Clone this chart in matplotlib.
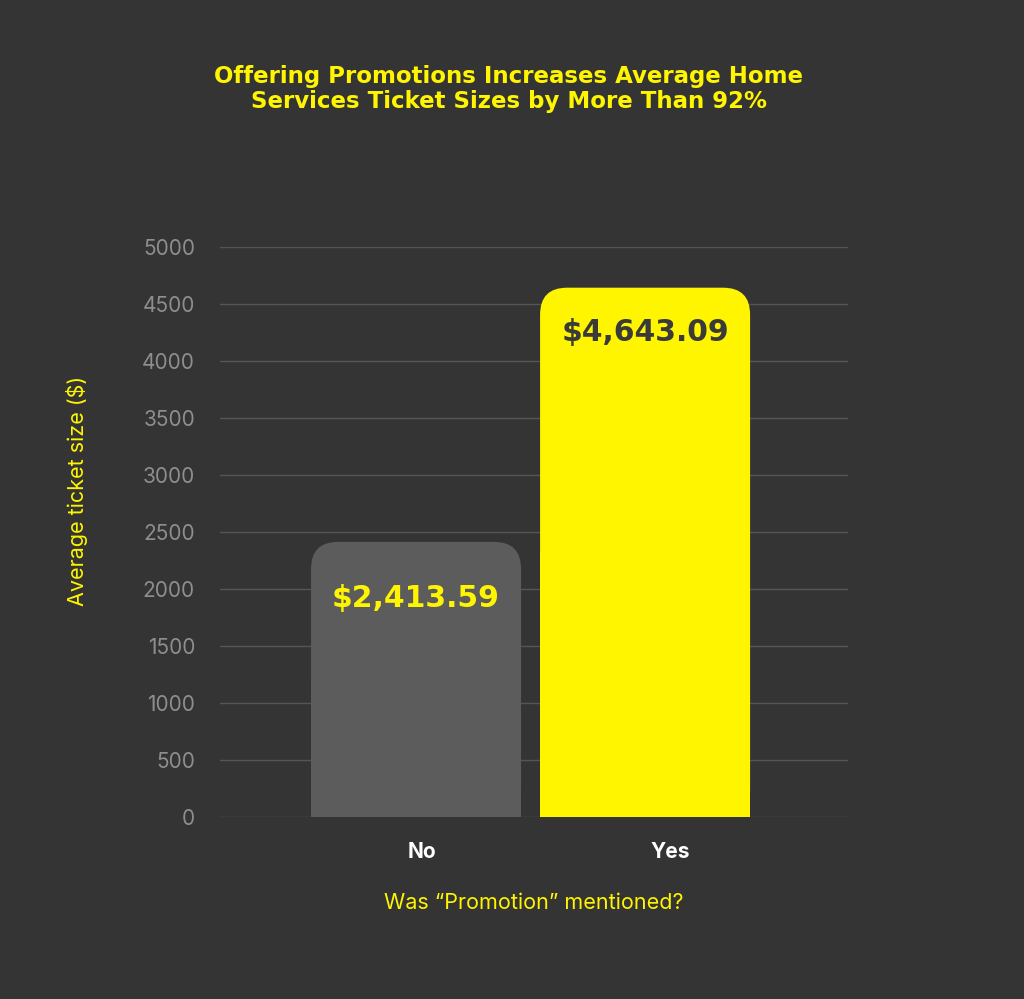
import matplotlib.pyplot as plt
import matplotlib.transforms as mtransforms
from matplotlib.patches import FancyBboxPatch, Rectangle

categories = ['No', 'Yes']
values = [2413.59, 4643.09]
value_labels = ['$2,413.59', '$4,643.09']
y_ticks = [0, 500, 1000, 1500, 2000, 2500, 3000, 3500, 4000, 4500, 5000]

BG = '#343434'
YELLOW = '#FFF500'
GREY_BAR = '#5C5C5C'

plt.rcParams['font.family'] = ['Inter', 'DejaVu Sans']

fig = plt.figure(figsize=(10.24, 9.99), dpi=100, facecolor=BG)
ax = fig.add_axes([220 / 1024, 1 - 817 / 999, 628 / 1024, 570 / 999])
ax.set_facecolor(BG)

x = list(range(len(categories)))
width = 0.917
ax.set_xlim(-0.856, 1.886)
ax.set_ylim(0, 5000)

# grid
ax.set_yticks(y_ticks)
ax.grid(axis='y', color='#555555', linewidth=1.0)
ax.set_axisbelow(True)
for s in ax.spines.values():
    s.set_visible(False)

fig.canvas.draw()
# aspect between data units so corners come out round in pixels
px_x = ax.transData.transform((1, 0))[0] - ax.transData.transform((0, 0))[0]
px_y = ax.transData.transform((0, 1))[1] - ax.transData.transform((0, 0))[1]
aspect = px_x / px_y
r = 27 / px_x

colors = [GREY_BAR, YELLOW]
text_colors = [YELLOW, '#3A3A3A']
offsets = [-57, -45]
for xi, v, c, tc, lab, off in zip(x, values, colors, text_colors, value_labels, offsets):
    left = xi - width / 2
    ax.add_patch(FancyBboxPatch((left, 0), width, v,
                                boxstyle=f'round,pad=0,rounding_size={r}',
                                mutation_aspect=aspect, facecolor=c,
                                edgecolor='none', zorder=2))
    ax.add_patch(Rectangle((left, 0), width, v / 2, facecolor=c,
                           edgecolor='none', zorder=2))
    ax.annotate(lab, (xi, v), xytext=(0, off), textcoords='offset pixels',
                ha='center', va='center', color=tc, fontsize=21.5,
                fontweight='heavy', family='DejaVu Sans', zorder=3)

ax.set_xticks(x)
ax.set_xticklabels(categories, color='white', fontsize=15, fontweight='bold')
ax.tick_params(axis='x', length=0, pad=18)
ax.tick_params(axis='y', length=0, pad=18, labelcolor='#8E8E8E', labelsize=15)
# the category labels sit a little right of the bar centres in the original
for lbl, dx in zip(ax.get_xticklabels(), [6, 25]):
    lbl.set_transform(lbl.get_transform() +
                      mtransforms.ScaledTranslation(dx / 100, 0, fig.dpi_scale_trans))

ax.set_xlabel('Was \u201cPromotion\u201d mentioned?', color=YELLOW, fontsize=15.5, labelpad=22)
ax.set_ylabel('Average ticket size ($)', color=YELLOW, fontsize=15.5)
ax.yaxis.set_label_coords(-0.21, 0.572)

fig.text(0.497, 1 - 89 / 999,
         'Offering Promotions Increases Average Home\nServices Ticket Sizes by More Than 92%',
         ha='center', va='center', color=YELLOW, fontsize=16.5, fontweight='heavy',
         family='DejaVu Sans', linespacing=1.1)

fig.savefig('out.png', dpi=100, facecolor=BG)
